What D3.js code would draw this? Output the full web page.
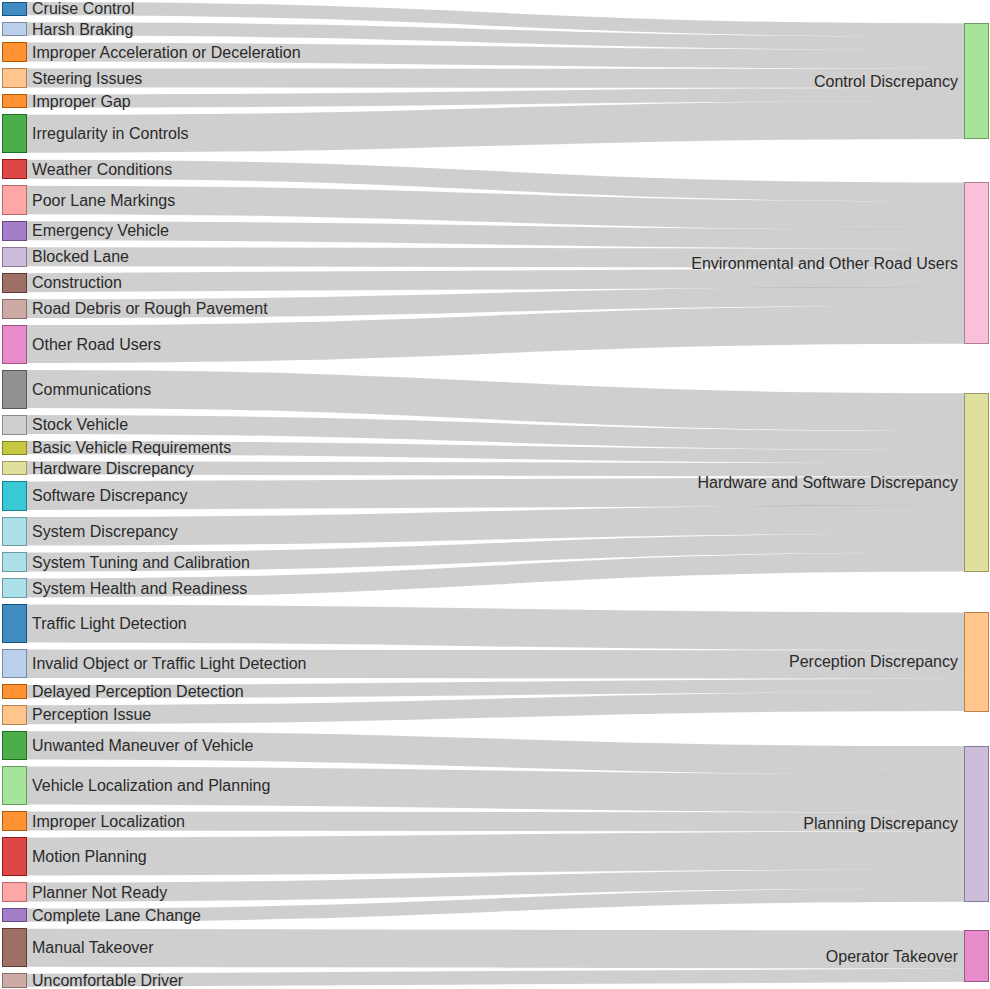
<!DOCTYPE html>
<html>
<head>
<meta charset="utf-8">
<script src="https://cdn.jsdelivr.net/npm/d3@7"></script>
<style>
  body { margin: 0; background: #fff; }
  .link { fill: none; stroke: #000; stroke-opacity: 0.19; }
  .node rect { fill-opacity: 0.85; shape-rendering: crispEdges; }
  .node text { font-family: "Liberation Sans", Arial, sans-serif; font-size: 16px; fill: #2a2a2a; }
</style>
</head>
<body>
<div id="chart"></div>
<script>
const width = 990;
const height = 989;
const extent = { left: 2, right: 988, top: 2, bottom: 987 };
const nodeWidth = 24;
const nodePadding = 7;

// right column categories
const categories = [
  "Control Discrepancy",
  "Environmental and Other Road Users",
  "Hardware and Software Discrepancy",
  "Perception Discrepancy",
  "Planning Discrepancy",
  "Operator Takeover"
];

// left column causes, grouped by category (in drawing order)
const causes = [
  ["Cruise Control", "Harsh Braking", "Improper Acceleration or Deceleration", "Steering Issues", "Improper Gap", "Irregularity in Controls"],
  ["Weather Conditions", "Poor Lane Markings", "Emergency Vehicle", "Blocked Lane", "Construction", "Road Debris or Rough Pavement", "Other Road Users"],
  ["Communications", "Stock Vehicle", "Basic Vehicle Requirements", "Hardware Discrepancy", "Software Discrepancy", "System Discrepancy", "System Tuning and Calibration", "System Health and Readiness"],
  ["Traffic Light Detection", "Invalid Object or Traffic Light Detection", "Delayed Perception Detection", "Perception Issue"],
  ["Unwanted Maneuver of Vehicle", "Vehicle Localization and Planning", "Improper Localization", "Motion Planning", "Planner Not Ready", "Complete Lane Change"],
  ["Manual Takeover", "Uncomfortable Driver"]
];

// flow values (estimated from band widths)
const causeValues = [
  [1.4, 1.4, 2, 2, 1.4, 4],
  [2, 3, 2, 2, 2, 2, 4],
  [4, 2, 1.4, 1.4, 3, 3, 2, 2],
  [4, 3, 1.4, 2],
  [3, 4, 2, 4, 2, 1.4],
  [4, 1.4]
];

const category20 = [
  "#1f77b4", "#aec7e8", "#ff7f0e", "#ffbb78", "#2ca02c", "#98df8a",
  "#d62728", "#ff9896", "#9467bd", "#c5b0d5", "#8c564b", "#c49c94",
  "#e377c2", "#f7b6d2", "#7f7f7f", "#c7c7c7", "#bcbd22", "#dbdb8d",
  "#17becf", "#9edae5"
];

// build nodes & links
const nodes = [];
const links = [];
categories.forEach((cat, ci) => {
  const target = { name: cat, side: "right", value: 0, links: [] };
  causes[ci].forEach((name, i) => {
    const src = { name: name, side: "left", value: causeValues[ci][i] };
    nodes.push(src);
    const link = { source: src, target: target, value: causeValues[ci][i] };
    links.push(link);
    target.links.push(link);
    target.value += link.value;
  });
  nodes.push(target);
});

// colour by first word, in node order
const color = d3.scaleOrdinal(category20);
nodes.forEach((d) => color(d.name.replace(/ .*/, "")));

// layout
const leftNodes = nodes.filter((d) => d.side === "left");
const rightNodes = nodes.filter((d) => d.side === "right");
const total = d3.sum(leftNodes, (d) => d.value);
const ky = (extent.bottom - extent.top - (leftNodes.length - 1) * nodePadding) / total;
const yScale = d3.scaleLinear().domain([0, 1]).range([0, ky]);

let y = extent.top;
leftNodes.forEach((d) => {
  d.x0 = extent.left;
  d.x1 = extent.left + nodeWidth;
  d.y0 = y;
  d.y1 = y + yScale(d.value);
  y = d.y1 + nodePadding;
});

rightNodes.forEach((d) => {
  const h = yScale(d.value);
  const c = d3.sum(d.links, (l) => l.value * (l.source.y0 + l.source.y1) / 2) / d.value;
  d.x0 = extent.right - nodeWidth;
  d.x1 = extent.right;
  d.y0 = c - h / 2;
  d.y1 = c + h / 2;
});

// resolve collisions on the right
let prev = extent.top - nodePadding;
rightNodes.forEach((d) => {
  const dy = prev + nodePadding - d.y0;
  if (dy > 0) { d.y0 += dy; d.y1 += dy; }
  prev = d.y1;
});

// link positions
links.forEach((l) => {
  l.width = yScale(l.value);
  l.y0 = (l.source.y0 + l.source.y1) / 2;
});
rightNodes.forEach((d) => {
  let yy = d.y0;
  d.links.forEach((l) => {
    l.y1 = yy + l.width / 2;
    yy += l.width;
  });
});

const svg = d3
  .select("#chart")
  .append("svg")
  .attr("width", width)
  .attr("height", height);

const linkPath = d3
  .linkHorizontal()
  .source((d) => [d.source.x1, d.y0])
  .target((d) => [d.target.x0, d.y1]);

// draw links
svg
  .append("g")
  .selectAll("path")
  .data(links)
  .enter()
  .append("path")
  .attr("class", "link")
  .attr("d", linkPath)
  .attr("stroke-width", (d) => Math.max(1, d.width));

// draw nodes
const node = svg
  .append("g")
  .selectAll("g")
  .data(nodes)
  .enter()
  .append("g")
  .attr("class", "node");

node
  .append("rect")
  .attr("x", (d) => d.x0)
  .attr("y", (d) => d.y0)
  .attr("width", (d) => d.x1 - d.x0)
  .attr("height", (d) => d.y1 - d.y0)
  .attr("fill", (d) => color(d.name.replace(/ .*/, "")))
  .attr("stroke", (d) => d3.rgb(color(d.name.replace(/ .*/, ""))).darker(1));

node
  .append("text")
  .attr("x", (d) => (d.side === "left" ? d.x1 + 6 : d.x0 - 6))
  .attr("y", (d) => (d.y0 + d.y1) / 2)
  .attr("dy", "0.35em")
  .attr("text-anchor", (d) => (d.side === "left" ? "start" : "end"))
  .text((d) => d.name);
</script>
</body>
</html>
